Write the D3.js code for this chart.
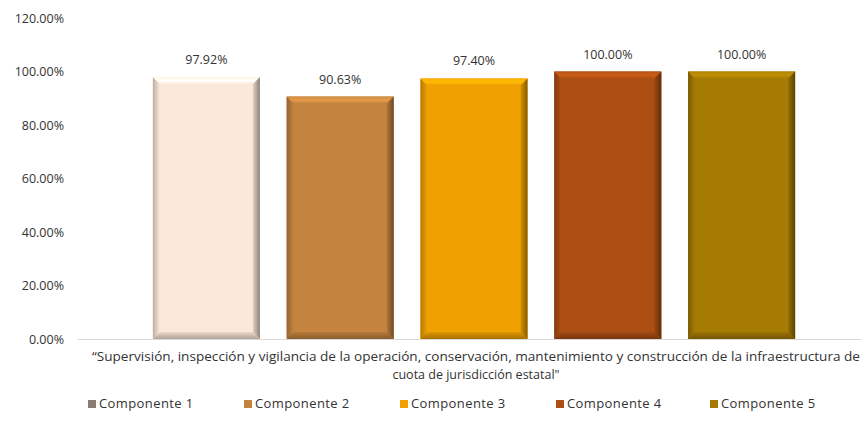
<!DOCTYPE html>
<html>
<head>
<meta charset="utf-8">
<script src="https://cdn.jsdelivr.net/npm/d3@7"></script>
<style>
  body { margin: 0; background: #fff; }
  svg text { font-family: "Open Sans", "Noto Sans", sans-serif; fill: #333; }
</style>
</head>
<body>
<div id="chart"></div>
<script>
// data
var series = ["Componente 1", "Componente 2", "Componente 3", "Componente 4", "Componente 5"]
var values = [97.92, 90.63, 97.40, 100.00, 100.00]
var colors = ["#FCE8D8", "#C4843F", "#EFA102", "#AD4F14", "#A57B04"]
var yTicks = [0, 20, 40, 60, 80, 100, 120]
var categoryLines = ["\u201CSupervisión,  inspección y vigilancia  de la operación, conservación,  mantenimiento y construcción  de la infraestructura de",
                     "cuota de jurisdicción  estatal\""]

var W = 861, H = 425
var svg = d3.select("#chart").append("svg")
    .attr("width", W).attr("height", H)

var y = d3.scaleLinear().domain([0, 120]).range([339, 18])
var x = d3.scaleBand().domain(series).range([143.5, 804.5]).paddingInner(0.2).paddingOuter(0.07)

var defs = svg.append("defs")

// y axis labels (no axis line)
svg.append("g").selectAll("text")
  .data(yTicks)
  .enter().append("text")
    .attr("x", 64)
    .attr("y", function (d) { return y(d) + 4.5 })
    .attr("text-anchor", "end")
    .style("font-size", "12.5px")
    .text(function (d) { return d.toFixed(2) + "%" })

// baseline
svg.append("line")
  .attr("x1", 78).attr("x2", 861)
  .attr("y1", y(0) + 0.5).attr("y2", y(0) + 0.5)
  .attr("stroke", "#d9d9d9").attr("stroke-width", 1)

// bevelled bars
var bev = 7
var bars = svg.append("g").selectAll("g")
  .data(series)
  .enter().append("g")

function poly(g, pts, fill) {
  g.append("polygon").attr("points", pts.map(function (p) { return p.join(",") }).join(" ")).attr("fill", fill)
}

bars.each(function (s, i) {
  var g = d3.select(this)
  var x0 = x(s), x1 = x(s) + x.bandwidth()
  var y0 = y(values[i]), y1 = y(0)
  var c = d3.color(colors[i])
  // gradients for the bevel edges
  var gr = defs.append("linearGradient").attr("id", "rg" + i).attr("x1", "0").attr("x2", "1")
  gr.append("stop").attr("offset", "0").attr("stop-color", c.darker(0.3))
  gr.append("stop").attr("offset", "1").attr("stop-color", c.darker(1.6))
  var gt = defs.append("linearGradient").attr("id", "tg" + i).attr("x1", "0").attr("x2", "0").attr("y1", "0").attr("y2", "1")
  gt.append("stop").attr("offset", "0").attr("stop-color", c.brighter(0.15))
  gt.append("stop").attr("offset", "0.5").attr("stop-color", c.brighter(0.45))
  gt.append("stop").attr("offset", "1").attr("stop-color", c)
  var gb = defs.append("linearGradient").attr("id", "bg" + i).attr("x1", "0").attr("x2", "0").attr("y1", "0").attr("y2", "1")
  gb.append("stop").attr("offset", "0").attr("stop-color", c.darker(0.2))
  gb.append("stop").attr("offset", "1").attr("stop-color", c.darker(1.0))
  var gl = defs.append("linearGradient").attr("id", "lg" + i).attr("x1", "0").attr("x2", "1")
  gl.append("stop").attr("offset", "0").attr("stop-color", c.darker(0.8))
  gl.append("stop").attr("offset", "1").attr("stop-color", c)

  g.append("rect").attr("x", x0).attr("y", y0).attr("width", x1 - x0).attr("height", y1 - y0).attr("fill", c)
  poly(g, [[x0, y0], [x0 + bev, y0 + bev], [x0 + bev, y1 - bev], [x0, y1]], "url(#lg" + i + ")")
  poly(g, [[x0, y0], [x1, y0], [x1 - bev, y0 + bev], [x0 + bev, y0 + bev]], "url(#tg" + i + ")")
  poly(g, [[x0, y1], [x1, y1], [x1 - bev, y1 - bev], [x0 + bev, y1 - bev]], "url(#bg" + i + ")")
  poly(g, [[x1, y0], [x1, y1], [x1 - bev, y1 - bev], [x1 - bev, y0 + bev]], "url(#rg" + i + ")")
})

// value labels
svg.append("g").selectAll("text")
  .data(series)
  .enter().append("text")
    .attr("x", function (d) { return x(d) + x.bandwidth() / 2 })
    .attr("y", function (d, i) { return y(values[i]) - 13 })
    .attr("text-anchor", "middle")
    .style("font-size", "12.5px")
    .text(function (d, i) { return values[i].toFixed(2) + "%" })

// category label
svg.append("text")
  .attr("x", 476).attr("y", 361)
  .attr("text-anchor", "middle")
  .attr("textLength", 768).attr("lengthAdjust", "spacingAndGlyphs")
  .style("font-size", "12.5px")
  .text(categoryLines[0])
svg.append("text")
  .attr("x", 476).attr("y", 379)
  .attr("text-anchor", "middle")
  .style("font-size", "12.5px")
  .text(categoryLines[1])

// legend
var legendX = [88, 244, 400, 556, 710]
var leg = svg.append("g").selectAll("g")
  .data(series)
  .enter().append("g")
    .attr("transform", function (d, i) { return "translate(" + legendX[i] + ",407)" })
leg.append("rect")
  .attr("x", 0).attr("y", -7).attr("width", 8).attr("height", 8)
  .attr("fill", function (d, i) { return i == 0 ? "#8a7c72" : colors[i] })
leg.append("text")
  .attr("x", 11).attr("y", 1)
  .style("font-size", "13px")
  .style("letter-spacing", "0.4px")
  .text(function (d) { return d })
</script>
</body>
</html>
